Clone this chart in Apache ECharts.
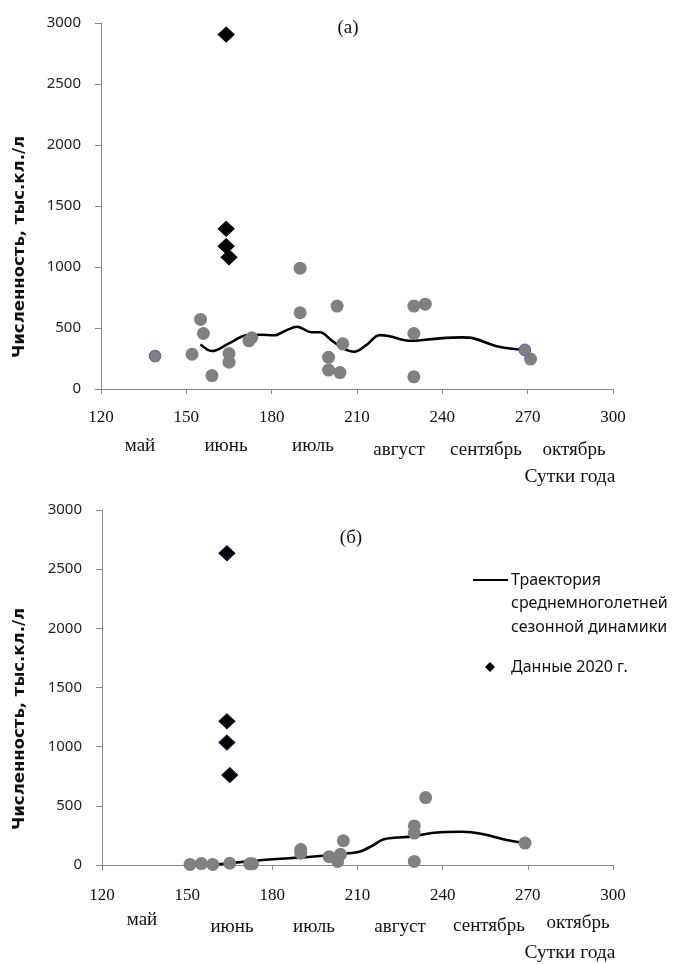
<!DOCTYPE html>
<html><head><meta charset="utf-8">
<script src="https://cdn.jsdelivr.net/npm/echarts@6/dist/echarts.min.js"></script>
<style>html,body{margin:0;padding:0;background:#fff}#c{width:673px;height:964px}</style>
</head><body><div id="c"></div>
<script>
// ---- data ----
const xTicks = [120, 150, 180, 210, 240, 270, 300];
const yTicks = [0, 500, 1000, 1500, 2000, 2500, 3000];
const months = ['май', 'июнь', 'июль', 'август', 'сентябрь', 'октябрь'];
const panelTitles = ['(а)', '(б)'];
const xName = 'Сутки года';
const yName = 'Численность, тыс.кл./л';
const legendLine = ['Траектория', 'среднемноголетней', 'сезонной динамики'];
const legendDiamond = 'Данные 2020 г.';

// panel (a)
const aCirclesDay = [152, 155, 156, 159, 165, 165, 172, 173, 190, 190, 200, 200, 203, 204, 205, 230, 230, 230, 234, 271];
const aCirclesVal = [285, 570, 455, 110, 290, 220, 395, 420, 990, 625, 260, 155, 680, 135, 370, 680, 455, 100, 695, 245];
const aOutlinedDay = [139, 269];
const aOutlinedVal = [270, 320];
const aDiamondDay = [164, 164, 164, 165];
const aDiamondVal = [2905, 1313, 1171, 1079];
const aLineDay = [155, 159, 165, 171, 176, 181, 185, 189, 194, 197, 201, 205, 209, 213, 218, 221, 229, 239, 247, 251, 260, 269];
const aLineVal = [366, 311, 374, 440, 445, 440, 480, 510, 465, 465, 400, 335, 305, 355, 442, 435, 395, 415, 423, 415, 346, 320];

// panel (б)
const bCirclesDay = [151, 155, 159, 165, 172, 173, 190, 190, 200, 203, 204, 205, 230, 230, 230, 234, 269];
const bCirclesVal = [5, 12, 5, 15, 10, 10, 130, 100, 70, 30, 90, 205, 330, 270, 30, 570, 185];
const bDiamondDay = [164, 164, 164, 165];
const bDiamondVal = [2635, 1215, 1035, 760];
const bLineDay = [161, 167, 175, 180, 189, 198, 205, 211, 215, 219, 223, 229, 237, 247, 254, 261, 269];
const bLineVal = [5, 20, 38, 48, 62, 78, 95, 115, 160, 215, 230, 240, 272, 281, 262, 220, 183];

const zip = (a, b) => a.map((v, i) => [v, b[i]]);

// ---- layout ----
const grids = [
  {left: 101, top: 23, width: 512, height: 366},
  {left: 102, top: 510, width: 511, height: 355}
];
const axisColor = '#8a8a8a';
const serif = '"Liberation Serif", "DejaVu Serif", serif';
const sans = '"Noto Sans", "Open Sans", sans-serif';

function xAxis(i, margin) {
  return {
    type: 'value', gridIndex: i, min: 120, max: 300, interval: 30,
    axisLine: {show: true, lineStyle: {color: axisColor}},
    axisTick: {show: true, length: 5, lineStyle: {color: axisColor}},
    splitLine: {show: false},
    axisLabel: {margin: margin, fontFamily: serif, fontSize: 17, color: '#111',
      formatter: v => xTicks.includes(v) ? String(v) : ''}
  };
}
function yAxis(i) {
  return {
    type: 'value', gridIndex: i, min: 0, max: 3000, interval: 500,
    axisLine: {show: true, lineStyle: {color: axisColor}},
    axisTick: {show: true, length: 6, lineStyle: {color: axisColor}},
    splitLine: {show: false},
    axisLabel: {margin: 20, fontFamily: sans, fontSize: 15, color: '#222',
      formatter: v => yTicks.includes(v) ? String(v) : ''}
  };
}

const circleStyle = {color: '#808080', opacity: 1};
function panelSeries(i, lineDay, lineVal, cDay, cVal, dDay, dVal, diamondBorder) {
  return [
    {type: 'line', xAxisIndex: i, yAxisIndex: i, data: zip(lineDay, lineVal), smooth: 0.35,
     showSymbol: false, symbol: 'none', lineStyle: {color: '#000', width: 2.6}, z: 2, silent: true},
    {type: 'scatter', xAxisIndex: i, yAxisIndex: i, data: zip(cDay, cVal), symbol: 'circle',
     symbolSize: 13, itemStyle: circleStyle, z: 3},
    {type: 'scatter', xAxisIndex: i, yAxisIndex: i, data: zip(dDay, dVal), symbol: 'diamond',
     symbolSize: [16, 15], itemStyle: {color: '#000', opacity: 1, borderColor: diamondBorder, borderWidth: 1}, z: 4}
  ];
}

const series = [
  ...panelSeries(0, aLineDay, aLineVal, aCirclesDay, aCirclesVal, aDiamondDay, aDiamondVal, '#000'),
  {type: 'scatter', xAxisIndex: 0, yAxisIndex: 0, data: zip(aOutlinedDay, aOutlinedVal), symbol: 'circle',
   symbolSize: 11.5, itemStyle: {color: '#808080', opacity: 1, borderColor: '#7a5fa8', borderWidth: 1.2}, z: 3},
  ...panelSeries(1, bLineDay, bLineVal, bCirclesDay, bCirclesVal, bDiamondDay, bDiamondVal, '#1a1040')
];

// text graphics
const monthX = [[140, 226, 313, 399, 486, 574], [142, 232, 314, 400, 489, 578]];
const monthY = [[446, 446, 446, 450, 450, 450], [920, 927, 927, 927, 926, 923]];
const graphic = [];
monthX.forEach((row, p) => row.forEach((x, k) => {
  graphic.push({type: 'text', x: x, y: monthY[p][k],
    style: {text: months[k], fontFamily: serif, fontSize: 19, fill: '#111', align: 'center', verticalAlign: 'middle'}});
}));
[[570, 477], [570, 953]].forEach(([x, y]) => graphic.push({type: 'text', x: x, y: y,
  style: {text: xName, fontFamily: serif, fontSize: 19.5, fill: '#111', align: 'center', verticalAlign: 'middle'}}));
[[348, 28], [351, 538]].forEach(([x, y], p) => graphic.push({type: 'text', x: x, y: y,
  style: {text: panelTitles[p], fontFamily: serif, fontSize: 19, fill: '#111', align: 'center', verticalAlign: 'middle'}}));
[[20, 247], [20, 719]].forEach(([x, y]) => graphic.push({type: 'text', x: x, y: y, rotation: Math.PI / 2,
  style: {text: yName, fontFamily: '"DejaVu Sans", sans-serif', fontWeight: 'bold', fontSize: 16.5, fill: '#111', align: 'center', verticalAlign: 'middle'}}));
// legend
graphic.push({type: 'line', shape: {x1: 473, y1: 580, x2: 508, y2: 580}, style: {stroke: '#000', lineWidth: 2}});
legendLine.forEach((t, k) => graphic.push({type: 'text', x: 511, y: 580 + k * 23.5,
  style: {text: t, fontFamily: sans, fontSize: 16, fill: '#111', align: 'left', verticalAlign: 'middle'}}));
graphic.push({type: 'polygon', shape: {points: [[490, 662], [495, 667], [490, 672], [485, 667]]}, style: {fill: '#000'}});
graphic.push({type: 'text', x: 511, y: 667,
  style: {text: legendDiamond, fontFamily: sans, fontSize: 16, fill: '#111', align: 'left', verticalAlign: 'middle'}});

const chart = echarts.init(document.getElementById('c'), null, {renderer: 'canvas'});
chart.setOption({
  animation: false,
  backgroundColor: '#fff',
  grid: grids,
  xAxis: [xAxis(0, 20), xAxis(1, 22)],
  yAxis: [yAxis(0), yAxis(1)],
  series: series,
  graphic: graphic
});
</script>
</body></html>
